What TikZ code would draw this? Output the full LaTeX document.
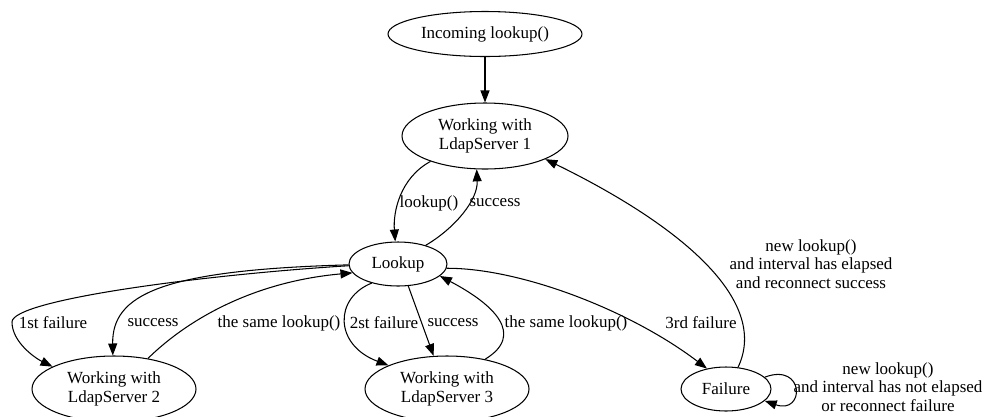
\documentclass[tikz,border=0pt]{standalone}
\usepackage{fontspec}
\setmainfont{Liberation Serif}
\usetikzlibrary{arrows.meta,shapes.geometric}
\begin{document}
\begin{tikzpicture}[x=1pt,y=-1pt,
  every node/.style={font=\fontsize{17}{18.5}\selectfont},
  state/.style={ellipse,draw,line width=1.05pt,inner sep=0pt,align=center},
  lbl/.style={align=center,inner sep=0pt},
  edge/.style={draw,line width=1.05pt,-{Triangle[length=12pt,width=9pt]}}]
\useasboundingbox (0,0) rectangle (984,416);

% states
\node[state,minimum width=194pt,minimum height=45pt] (inc) at (485,34) {Incoming lookup()};
\node[state,minimum width=166pt,minimum height=66pt] (w1) at (485,136) {Working with\\LdapServer 1};
\node[state,minimum width=98pt,minimum height=44pt] (lk) at (398,264) {Lookup};
\node[state,minimum width=164pt,minimum height=66pt] (w2) at (114,389) {Working with\\LdapServer 2};
\node[state,minimum width=164pt,minimum height=66pt] (w3) at (447,389) {Working with\\LdapServer 3};
\node[state,minimum width=90pt,minimum height=44pt] (f) at (726,389) {Failure};

% transitions
\draw[edge] (inc) -- (w1);
\draw[edge] (w1.205) .. controls (400,178) and (393,212) .. (lk.97);
\draw[edge] (lk.34) .. controls (455,228) and (478,200) .. (w1.256);

\draw[edge] (lk.182) .. controls (200,275) and (12,300) .. (12,322)
            .. controls (12,342) and (35,358) .. (w2.160);
\draw[edge] (lk.181) .. controls (160,270) and (112,295) .. (w2.92);
\draw[edge] (w2.42) .. controls (185,322) and (250,282) .. (lk.191);

\draw[edge] (lk.216) .. controls (334,298) and (334,345) .. (w3.158);
\draw[edge] (lk.295) -- (w3.112);
\draw[edge] (w3.38) .. controls (525,335) and (495,305) .. (lk.344);

\draw[edge] (lk.355) .. controls (520,268) and (630,310) .. (f.133);
\draw[edge] (f.61) .. controls (770,300) and (680,225) .. (w1.339);
\draw[edge] (f.17) .. controls (805,362) and (805,415) .. (f.343);

% transition labels
\node[lbl] (t1) at (429,203) {lookup()};
\node[lbl] (t2) at (495,203) {success};
\node[lbl] (t3) at (53,323) {1st failure};
\node[lbl] (t4) at (153,323) {success};
\node[lbl] (t5) at (279,323) {the same lookup()};
\node[lbl] (t6) at (384,323) {2st failure};
\node[lbl] (t7) at (453,323) {success};
\node[lbl] (t8) at (566,323) {the same lookup()};
\node[lbl] (t9) at (701,323) {3rd failure};
\node[lbl] (t10) at (811,264) {new lookup()\\and interval has elapsed\\and reconnect success};
\node[lbl] (t11) at (888,387) {new lookup()\\and interval has not elapsed\\or reconnect failure};
\end{tikzpicture}
\end{document}
